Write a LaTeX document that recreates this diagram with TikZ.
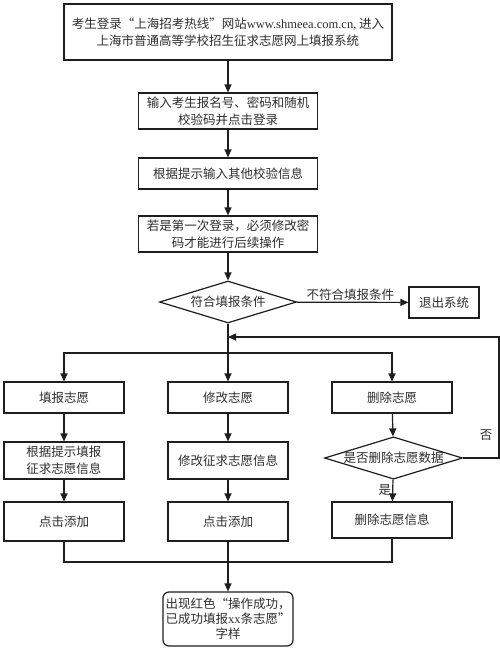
\documentclass[tikz,border=0pt]{standalone}
\usepackage{fontspec}
\setmainfont{Liberation Serif}
\newfontfamily\cjk{Noto Sans CJK SC}
\usetikzlibrary{shapes.geometric,arrows.meta}
\definecolor{linec}{HTML}{1E1E1E}
\definecolor{textc}{HTML}{2E2E2E}
\begin{document}
\begin{tikzpicture}[x=1pt,y=-1pt,
  font=\cjk\fontsize{12.5}{16.5}\selectfont,
  box/.style 2 args={draw=linec, line width=1.2pt, text=textc, inner sep=0pt, align=center, minimum width=#1, minimum height=#2},
  dia/.style={draw=linec, line width=1.2pt, text=textc, diamond, aspect=3.26, inner sep=0pt, minimum width=137, minimum height=42},
  lab/.style={text=textc, inner sep=1pt},
  line/.style={draw=linec, line width=1.2pt},
  arr/.style={line, -{Triangle[length=8pt,width=7pt]}}]
\useasboundingbox[fill=white] (0,0) rectangle (500,654);
\node[box={328}{56}] (b1) at (228,32) {考生登录“上海招考热线”网站{\rmfamily www.shmeea.com.cn,} 进入\\上海市普通高等学校招生征求志愿网上填报系统};
\node[box={179}{36}] (b2) at (228,111) {输入考生报名号、密码和随机\\校验码并点击登录};
\node[box={179}{31}] (b3) at (228,173.5) {根据提示输入其他校验信息};
\node[box={179}{36}] (b4) at (228,234) {若是第一次登录，必须修改密\\码才能进行后续操作};
\node[dia] (d1) at (228,302) {符合填报条件};
\node[box={70}{31}] (ex) at (444,302.5) {退出系统};
\node[box={120}{31}] (f1) at (64,397.5) {填报志愿};
\node[box={120}{31}] (m1) at (228,397.5) {修改志愿};
\node[box={120}{31}] (r1) at (392,397.5) {删除志愿};
\node[box={120}{37}] (f2) at (64,460.5) {根据提示填报\\征求志愿信息};
\node[box={120}{37}] (m2) at (228,460.5) {修改征求志愿信息};
\node[dia] (d2) at (393.5,458) {是否删除志愿数据};
\node[box={120}{39}] (f3) at (64,521.5) {点击添加};
\node[box={120}{39}] (m3) at (228,521.5) {点击添加};
\node[box={120}{36}] (r3) at (392,520) {删除志愿信息};
\node[box={130}{54}, rounded corners=6pt, font=\cjk\fontsize{12.5}{15}\selectfont] (fin) at (228,619) {出现红色“操作成功，\\已成功填报{\rmfamily xx}条志愿”\\字样};
\coordinate (sp) at (228,353);
\coordinate (fbA) at (499,458);
\coordinate (fbB) at (499,337);
\coordinate (fbC) at (228,337);
\coordinate (jn) at (228,562);
\draw[arr] (b1) -- (b2);
\draw[arr] (b2) -- (b3);
\draw[arr] (b3) -- (b4);
\draw[arr] (b4) -- (d1);
\draw[arr] (d1) -- node[lab, above, pos=0.48] {不符合填报条件} (ex);
\draw[arr] (d1.south) -- (m1.north);
\draw[arr] (sp) -| (f1.north);
\draw[arr] (sp) -| (r1.north);
\draw[arr] (d2.east) -- (fbA) -- (fbB) -- (fbC);
\draw[arr] (f1) -- (f2);
\draw[arr] (m1) -- (m2);
\draw[arr] (r1) -- (d2);
\draw[arr] (f2) -- (f3);
\draw[arr] (m2) -- (m3);
\draw[arr] (d2) -- node[lab, left, pos=0.5] {是} (r3);
\draw[line] (f3.south) |- (jn) -| (r3.south);
\draw[arr] (m3.south) -- (fin.north);
\node[lab] (no) at (486,435) {否};
\end{tikzpicture}
\end{document}
